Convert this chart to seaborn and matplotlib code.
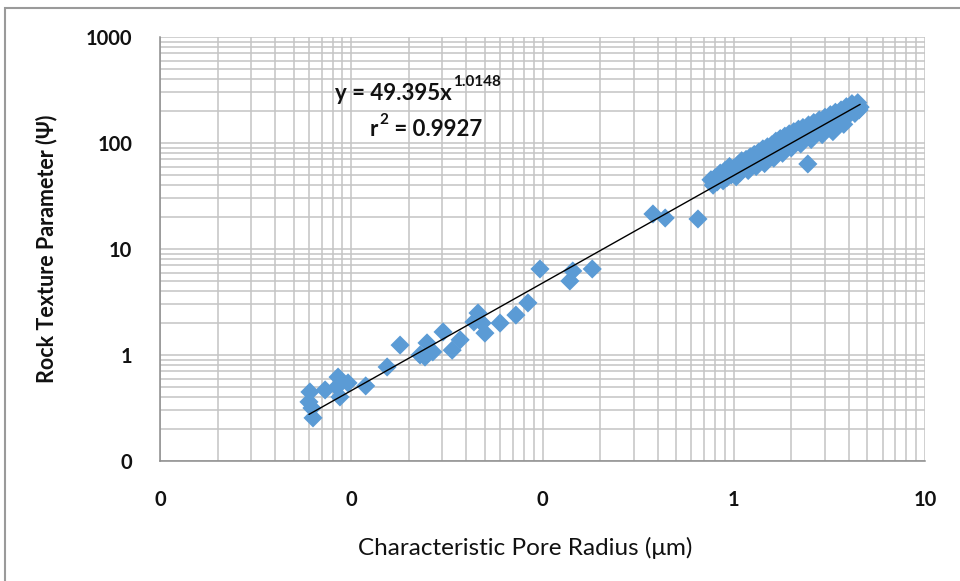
import numpy as np
import pandas as pd
import matplotlib
matplotlib.use("Agg")
import matplotlib.pyplot as plt
from matplotlib.patches import Rectangle
from matplotlib.ticker import LogLocator, FixedLocator, FixedFormatter, NullFormatter
import seaborn as sns

# ---- data ----
radius_sparse = [0.00601, 0.00608, 0.00631, 0.00623, 0.00730, 0.00853, 0.00841, 0.00873,
                 0.00962, 0.0119, 0.0154, 0.0180, 0.0229, 0.0243, 0.0249, 0.0267, 0.0302,
                 0.0337, 0.0371, 0.0438, 0.0460, 0.0483, 0.0500, 0.0600, 0.0726, 0.0839,
                 0.0970, 0.139, 0.144, 0.182, 0.378, 0.438, 0.650, 2.44]
psi_sparse = [0.361, 0.448, 0.255, 0.316, 0.468, 0.619, 0.499, 0.402,
              0.545, 0.511, 0.771, 1.24, 1.00, 0.957, 1.30, 1.07, 1.65,
              1.11, 1.39, 2.05, 2.49, 2.00, 1.61, 2.00, 2.38, 3.10,
              6.48, 4.99, 6.20, 6.48, 21.4, 19.6, 19.2, 63.4]

radius_dense = [0.76, 0.78, 0.80, 0.82, 0.85, 0.88, 0.90, 0.92, 0.95, 0.97, 1.00, 1.03,
                1.05, 1.08, 1.10, 1.13, 1.16, 1.19, 1.22, 1.25, 1.28, 1.31, 1.35, 1.38,
                1.42, 1.45, 1.50, 1.54, 1.58, 1.62, 1.66, 1.70, 1.75, 1.80, 1.85, 1.90,
                1.95, 2.00, 2.06, 2.12, 2.18, 2.24, 2.30, 2.38, 2.46, 2.54, 2.62, 2.70,
                2.80, 2.90, 3.00, 3.10, 3.20, 3.30, 3.40, 3.52, 3.64, 3.76, 3.88, 4.00,
                4.15, 4.30, 4.45, 4.52, 4.58]
psi_dense = [45, 40, 47, 43, 52, 44, 55, 47, 60, 50, 58, 48,
             62, 53, 68, 58, 70, 55, 74, 63, 78, 60, 82, 70,
             88, 64, 92, 78, 96, 72, 104, 86, 110, 80, 116, 96,
             122, 90, 128, 104, 135, 98, 140, 115, 148, 108, 156, 130,
             165, 120, 175, 150, 185, 128, 195, 165, 205, 150, 220, 185,
             235, 190, 240, 205, 218]

# trendline reported on the chart
fit_coef = 49.395
fit_exp = 1.0148
fit_r2 = 0.9927

x_ticks = [0.001, 0.01, 0.1, 1, 10]
x_tick_labels = ["0", "0", "0", "1", "10"]
y_ticks = [0.1, 1, 10, 100, 1000]
y_tick_labels = ["0", "1", "10", "100", "1000"]

x_label = "Characteristic Pore Radius (μm)"
y_label = "Rock Texture Parameter (Ψ)"

df = pd.DataFrame({"radius": radius_sparse + radius_dense,
                   "psi": psi_sparse + psi_dense})

# ---- style ----
sns.set_theme(style="white")
plt.rcParams["font.family"] = ["Lato", "DejaVu Sans"]

W, H = 960, 581
fig = plt.figure(figsize=(W / 100, H / 100), dpi=100)
ax = fig.add_axes([160 / W, 1 - 461 / H, (925 - 160) / W, (461 - 37) / H])

ax.set_xscale("log")
ax.set_yscale("log")
ax.set_xlim(x_ticks[0], x_ticks[-1])
ax.set_ylim(y_ticks[0], y_ticks[-1])

grid_c = "#C4C4C4"
ax.xaxis.set_major_locator(FixedLocator(x_ticks))
ax.yaxis.set_major_locator(FixedLocator(y_ticks))
ax.xaxis.set_major_formatter(FixedFormatter(x_tick_labels))
ax.yaxis.set_major_formatter(FixedFormatter(y_tick_labels))
ax.xaxis.set_minor_locator(LogLocator(base=10, subs=np.arange(2, 10), numticks=20))
ax.yaxis.set_minor_locator(LogLocator(base=10, subs=np.arange(2, 10), numticks=20))
ax.xaxis.set_minor_formatter(NullFormatter())
ax.yaxis.set_minor_formatter(NullFormatter())
ax.grid(True, which="both", color=grid_c, linewidth=1.1)
ax.set_axisbelow(True)

for s in ["top", "right"]:
    ax.spines[s].set_visible(False)
for s in ["left", "bottom"]:
    ax.spines[s].set_color("#8C8C8C")
    ax.spines[s].set_linewidth(1.1)

ax.tick_params(axis="y", which="major", direction="out", length=7, width=1,
               color="#8C8C8C", pad=13, labelsize=14.5)
ax.tick_params(axis="x", which="major", direction="out", length=5, width=1,
               color="#8C8C8C", pad=16, labelsize=14.5)
ax.tick_params(which="minor", length=0)
for lab in ax.get_xticklabels() + ax.get_yticklabels():
    lab.set_fontweight("bold")
    lab.set_color("#111111")

# scatter
sns.scatterplot(data=df, x="radius", y="psi", marker="D", s=95, color="#5B9BD5",
                edgecolor="none", linewidth=0, ax=ax, zorder=3, legend=False)

# trendline
xs = np.logspace(np.log10(df["radius"].min()), np.log10(df["radius"].max()), 200)
ax.plot(xs, fit_coef * xs ** fit_exp, color="black", linewidth=1.0, zorder=4)

ax.set_xlabel(x_label, fontsize=17.5, color="#111111")
ax.xaxis.set_label_coords((525 - 160) / (925 - 160), -(548 - 461) / (461 - 37))
ax.xaxis.label.set_va("center")
ax.set_ylabel(y_label, fontsize=15.5, fontweight="bold", color="#111111")
ax.yaxis.set_label_coords(-(160 - 47) / (925 - 160), 0.5)
ax.yaxis.label.set_va("center")

# equation text
t1 = fig.text(335 / W, 1 - 94 / H, f"y = {fit_coef}x", fontsize=16,
              fontweight="bold", ha="left", va="center", color="#111111")
fig.canvas.draw()
bb = t1.get_window_extent()
fig.text((bb.x1 + 1) / W, 1 - 82 / H, f"{fit_exp}", fontsize=11,
         fontweight="bold", ha="left", va="center", color="#111111")
t2 = fig.text(370 / W, 1 - 129 / H, "r", fontsize=16,
              fontweight="bold", ha="left", va="center", color="#111111")
fig.canvas.draw()
bb2 = t2.get_window_extent()
t3 = fig.text((bb2.x1 + 1) / W, 1 - 120 / H, "2", fontsize=11,
              fontweight="bold", ha="left", va="center", color="#111111")
fig.canvas.draw()
bb3 = t3.get_window_extent()
fig.text((bb3.x1 + 1) / W, 1 - 129 / H, f" = {fit_r2}", fontsize=16,
         fontweight="bold", ha="left", va="center", color="#111111")

# figure border
fig.patches.append(Rectangle((5 / W, -0.1), 1.2, 1 - 8 / H + 0.1,
                             transform=fig.transFigure, fill=False,
                             edgecolor="#9A9A9A", linewidth=1.5))

fig.savefig("out.png", dpi=100)
